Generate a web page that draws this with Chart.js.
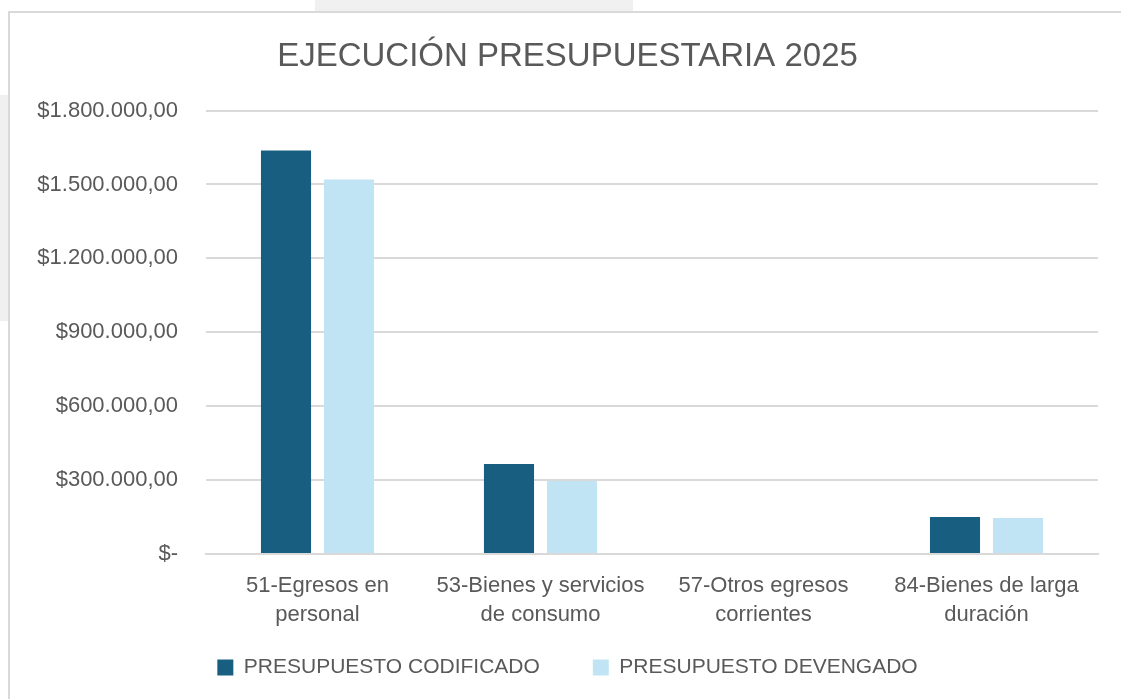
<!DOCTYPE html>
<html>
<head>
<meta charset="utf-8">
<script src="https://cdn.jsdelivr.net/npm/chart.js@4.4.0/dist/chart.umd.min.js"></script>
<style>
	body { margin: 0; background: #fff; overflow: hidden; }
	#wrap { position: absolute; left: 0; top: 0; width: 1121px; height: 699px; }
	.shade { position: absolute; background: #f0f0f0; }
	#frame { position: absolute; left: 8px; top: 11px; width: 1130px; height: 700px; border: 2px solid #d9d9d9; border-right: none; border-bottom: none; box-sizing: border-box; background: #fff; }
	#mycanvas { position: absolute; left: 0; top: 0; }
</style>
</head>
<body>
<div id="wrap">
	<div class="shade" style="left:315px;top:0;width:318px;height:12px;"></div>
	<div class="shade" style="left:0;top:95px;width:9px;height:226px;"></div>
	<div id="frame"></div>
	<canvas id="mycanvas" width="1121" height="699"></canvas>
</div>
<script>
var categorias = [
	['51-Egresos en', 'personal'],
	['53-Bienes y servicios', 'de consumo'],
	['57-Otros egresos', 'corrientes'],
	['84-Bienes de larga', 'duración']
];
var codificado = [1638000, 365000, 0, 150000];
var devengado = [1520000, 296000, 0, 146000];
var ticksY = [0, 300000, 600000, 900000, 1200000, 1500000, 1800000];

function moneda(v) {
	if (v === 0) return '$-';
	var s = Math.round(v).toString().replace(/\B(?=(\d{3})+(?!\d))/g, '.');
	return '$' + s + ',00';
}

var chartdata = {
	labels: categorias,
	datasets: [
		{
			label: 'PRESUPUESTO CODIFICADO',
			backgroundColor: '#185e80',
			borderWidth: 0,
			data: codificado
		},
		{
			label: 'PRESUPUESTO DEVENGADO',
			backgroundColor: '#c1e4f4',
			borderWidth: 0,
			data: devengado
		}
	]
};

var ctx = document.getElementById('mycanvas');

var grafico = new Chart(ctx, {
	type: 'bar',
	data: chartdata,
	options: {
		responsive: false,
		animation: false,
		datasets: {
			bar: { categoryPercentage: 0.565, barPercentage: 0.795 }
		},
		layout: { padding: { left: 37, right: 23, top: 0, bottom: 11 } },
		plugins: {
			title: {
				display: true,
				text: 'EJECUCIÓN PRESUPUESTARIA 2025',
				color: '#595959',
				font: { family: 'Liberation Sans', size: 33, weight: 'normal' },
				padding: { top: 37, bottom: 34 }
			},
			legend: {
				position: 'bottom',
				labels: {
					color: '#595959',
					font: { family: 'Liberation Sans', size: 21 },
					boxWidth: 16,
					boxHeight: 16,
					padding: 11,
					generateLabels: function(chart) {
						var items = Chart.defaults.plugins.legend.labels.generateLabels(chart);
						// un poco más de aire entre las dos entradas
						items[0].text = items[0].text + '\u2003\u2003';
						return items;
					}
				}
			},
			tooltip: { enabled: false }
		},
		scales: {
			x: {
				grid: { display: false, drawTicks: false },
				border: { color: '#d9d9d9', width: 2 },
				ticks: {
					color: '#595959',
					font: { family: 'Liberation Sans', size: 22, lineHeight: 1.32 },
					padding: 17,
					maxRotation: 0,
					autoSkip: false
				}
			},
			y: {
				min: 0,
				max: 1800000,
				afterFit: function(s) { s.width = 169; },
				afterBuildTicks: function(s) { s.ticks = ticksY.map(function(v) { return { value: v }; }); },
				grid: { color: '#d9d9d9', lineWidth: 2, drawTicks: false },
				border: { display: false },
				ticks: {
					color: '#595959',
					font: { family: 'Liberation Sans', size: 22 },
					padding: 28,
					callback: function(v) { return moneda(v); }
				}
			}
		}
	}
});
</script>
</body>
</html>
